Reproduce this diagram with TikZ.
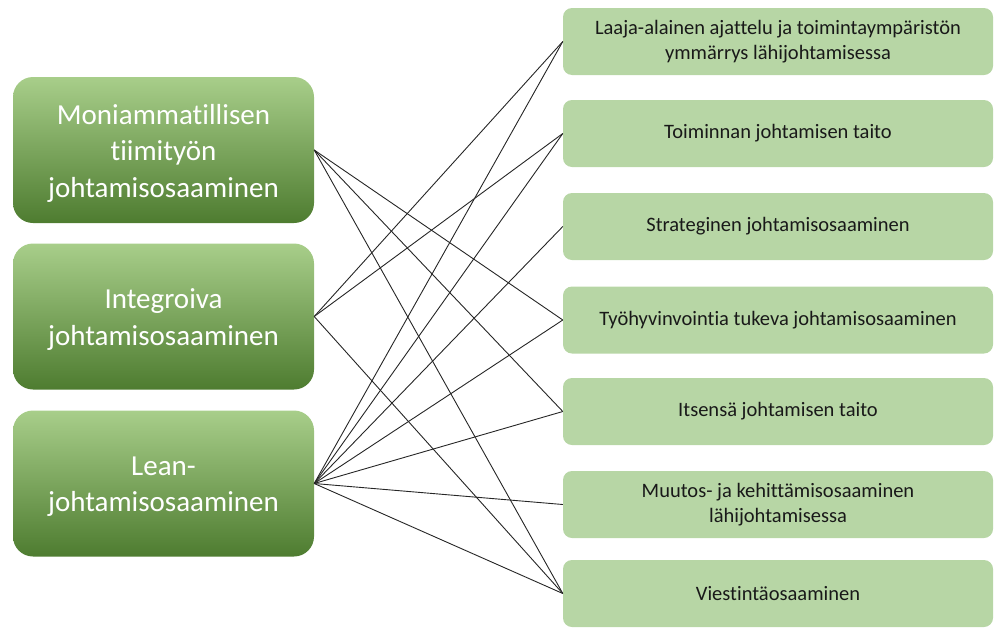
\documentclass[tikz,border=0pt]{standalone}
\usepackage{fontspec}
\setmainfont{Carlito}[Ligatures={NoCommon}]
\definecolor{rbox}{RGB}{183,214,165}
\definecolor{gtop}{RGB}{168,206,138}
\definecolor{gmid}{RGB}{112,173,71}
\definecolor{gbot}{RGB}{78,124,48}
\definecolor{rtext}{RGB}{25,25,25}
\begin{document}
\begin{tikzpicture}[x=1pt,y=-1pt,
  leftbox/.style={rounded corners=20pt, minimum width=301pt, minimum height=146pt, inner sep=0pt,
    top color=gtop, middle color=gmid, bottom color=gbot},
  lefttext/.style={text=white, align=center, inner sep=0pt, font=\fontsize{29}{36.5}\selectfont},
  rightbox/.style={rounded corners=9pt, minimum width=430pt, minimum height=67pt, inner sep=0pt,
    fill=rbox, text=rtext, align=center, font=\fontsize{20.5}{24.5}\selectfont},
  link/.style={draw=black!85, line width=0.9pt}]
\useasboundingbox (0,0) rectangle (995,627);
\node[leftbox] (m) at (163.5,150) {};
\node[leftbox] (i) at (163.5,316.5) {};
\node[leftbox] (l) at (163.5,483.5) {};
\node[lefttext] (mt) at ([yshift=-3pt]m.center) {Moniammatillisen\\tiimityön\\johtamisosaaminen};
\node[lefttext] (it) at ([yshift=-3pt]i.center) {Integroiva\\johtamisosaaminen};
\node[lefttext] (lt) at ([yshift=-3pt]l.center) {Lean-\\johtamisosaaminen};
\node[rightbox] (r1) at (778,41.5) {Laaja-alainen ajattelu ja toimintaympäristön\\ymmärrys lähijohtamisessa};
\node[rightbox] (r2) at (778,133.5) {Toiminnan johtamisen taito};
\node[rightbox] (r3) at (778,226.5) {Strateginen johtamisosaaminen};
\node[rightbox] (r4) at (778,320) {Työhyvinvointia tukeva johtamisosaaminen};
\node[rightbox] (r5) at (778,411.5) {Itsensä johtamisen taito};
\node[rightbox] (r6) at (778,504.5) {Muutos- ja kehittämisosaaminen\\lähijohtamisessa};
\node[rightbox] (r7) at (778,593.5) {Viestintäosaaminen};
\foreach \a/\b in {m/r4,m/r5,m/r7,i/r1,i/r2,i/r7,l/r1,l/r2,l/r3,l/r4,l/r5,l/r6,l/r7}
  \draw[link] (\a.east) -- (\b.west);
\end{tikzpicture}
\end{document}
